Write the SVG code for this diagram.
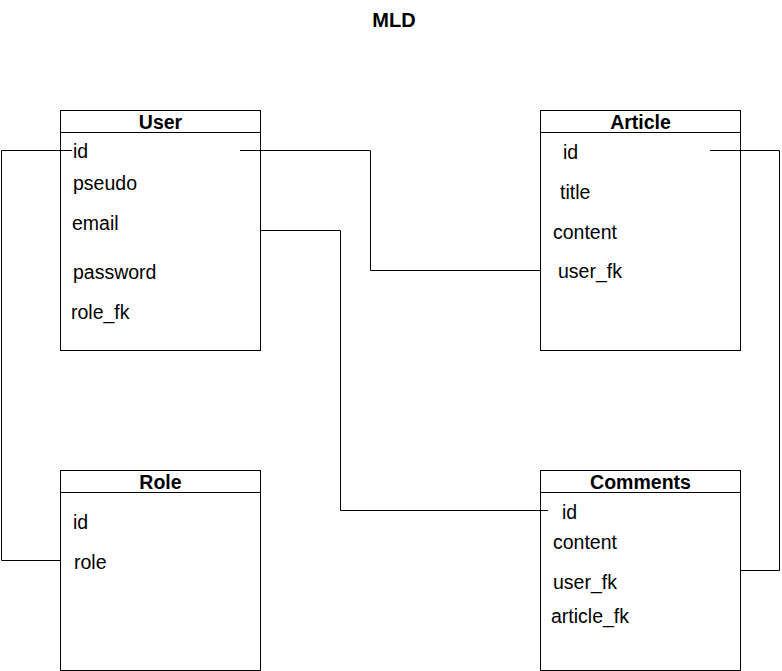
<svg xmlns="http://www.w3.org/2000/svg" width="782" height="671" viewBox="0 0 782 671">
<style>
.box{fill:#fff;stroke:#000;stroke-width:1}
.sep{stroke:#000;stroke-width:1}
.hdr{font-family:"Liberation Sans",Arial,sans-serif;font-size:19.5px;font-weight:bold;fill:#000;text-anchor:middle}
.fld{font-family:"Liberation Sans",Arial,sans-serif;font-size:19.5px;fill:#000}
.conn{fill:none;stroke:#000;stroke-width:1}
</style>
<rect width="782" height="671" fill="#fff"/>
<text class="hdr" x="394" y="27" style="font-size:20px">MLD</text>
<g id="user">
<rect class="box" x="60.5" y="110.5" width="200" height="240"/>
<line class="sep" x1="60.5" y1="132.5" x2="260.5" y2="132.5"/>
<text class="hdr" x="160.5" y="129">User</text>
<text class="fld" x="73" y="158">id</text>
<text class="fld" x="73" y="189.5">pseudo</text>
<text class="fld" x="72" y="229.5">email</text>
<text class="fld" x="73" y="279">password</text>
<text class="fld" x="71" y="318.5">role_fk</text>
</g>
<g id="article">
<rect class="box" x="540.5" y="110.5" width="200" height="240"/>
<line class="sep" x1="540.5" y1="132.5" x2="740.5" y2="132.5"/>
<text class="hdr" x="640.5" y="129">Article</text>
<text class="fld" x="563" y="158.5">id</text>
<text class="fld" x="560" y="198.5">title</text>
<text class="fld" x="553" y="238.5">content</text>
<text class="fld" x="558" y="277.5">user_fk</text>
</g>
<g id="role">
<rect class="box" x="60.5" y="470.5" width="200" height="200"/>
<line class="sep" x1="60.5" y1="492.5" x2="260.5" y2="492.5"/>
<text class="hdr" x="160.5" y="489">Role</text>
<text class="fld" x="73" y="528.5">id</text>
<text class="fld" x="74" y="568.5">role</text>
</g>
<g id="comments">
<rect class="box" x="540.5" y="470.5" width="200" height="200"/>
<line class="sep" x1="540.5" y1="492.5" x2="740.5" y2="492.5"/>
<text class="hdr" x="640.5" y="489">Comments</text>
<text class="fld" x="562" y="518.5">id</text>
<text class="fld" x="553" y="548.5">content</text>
<text class="fld" x="553" y="588.5">user_fk</text>
<text class="fld" x="551" y="623">article_fk</text>
</g>
<g id="connectors">
<polyline class="conn" points="72,150.5 1.5,150.5 1.5,560.5 60.5,560.5"/>
<polyline class="conn" points="240,150.5 370.5,150.5 370.5,270.5 540.5,270.5"/>
<polyline class="conn" points="260.5,230.5 340.5,230.5 340.5,510.5 548,510.5"/>
<polyline class="conn" points="710,150.5 779.5,150.5 779.5,570.5 740.5,570.5"/>
</g>
</svg>
